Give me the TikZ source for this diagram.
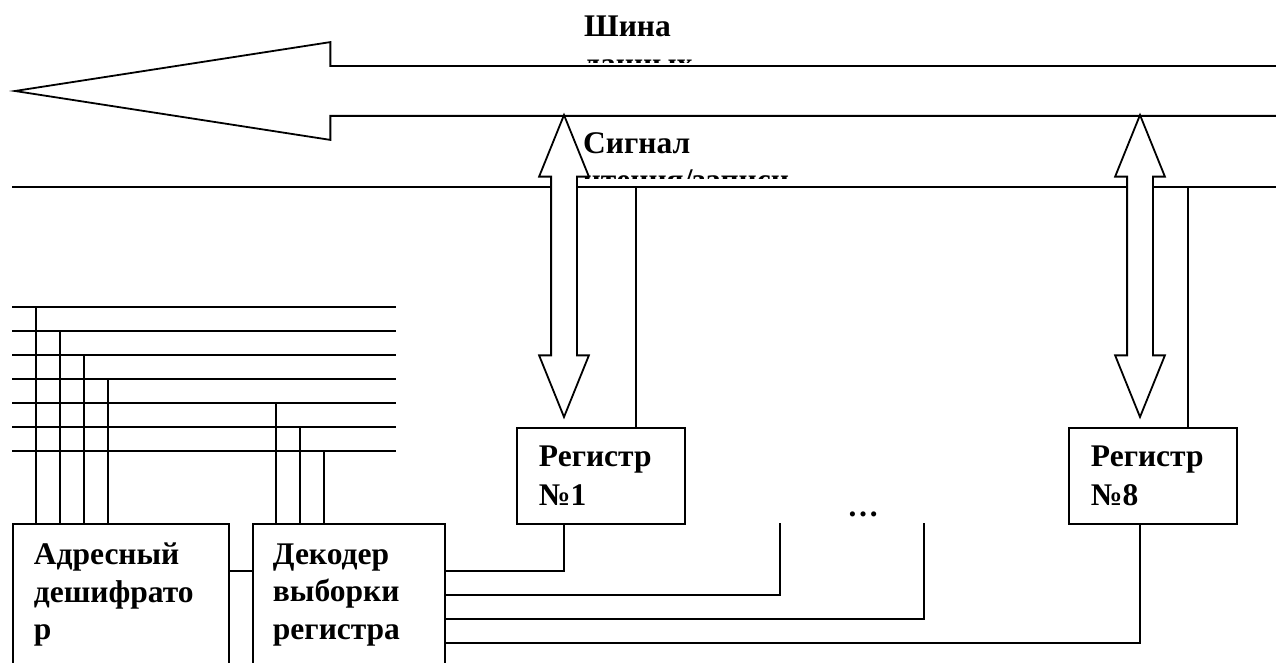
\documentclass[tikz,border=0pt]{standalone}
\usepackage{fontspec}
\setmainfont{Liberation Serif}
\usetikzlibrary{shapes.arrows}
\tikzstyle{every node}=[font=\bfseries\fontsize{31.5}{37.5}\selectfont,align=left]
\tikzstyle{wire}=[line width=1.9pt]
\tikzstyle{blockbox}=[draw=black,line width=1.9pt,anchor=north west,minimum height=154pt,inner ysep=0pt,text depth=94pt]
\tikzstyle{regbox}=[draw=black,line width=1.9pt,anchor=north west,minimum height=96pt,minimum width=168pt,inner ysep=0pt,text width=124pt,inner xsep=22pt]
\tikzstyle{datalink}=[draw=black,fill=white,line width=1.8pt,double arrow,rotate=90,minimum height=302pt,
          double arrow head extend=12pt,double arrow tip angle=44,inner xsep=0pt,inner ysep=12pt,outer sep=0pt]

\begin{document}
\begin{tikzpicture}[x=1pt,y=-1pt]
          \useasboundingbox (0,0) rectangle (1276,663);

          % labels, cut off by their frames
          \begin{scope}
            \clip (580,5) rectangle (730,63);
            \node[anchor=north west,inner sep=0pt] (buslabel) at (584,16) {Шина\\данных};
          \end{scope}
          \begin{scope}
            \clip (580,125) rectangle (830,178.5);
            \node[anchor=north west,inner sep=0pt] (siglabel) at (583,132) {Сигнал\\чтения/записи};
          \end{scope}

          % bus and signal line
          \node[single arrow,draw=black,fill=white,line width=1.8pt,rotate=180,minimum height=1300pt,anchor=tip,
            single arrow head extend=24pt,single arrow tip angle=17.63,inner xsep=0pt,inner ysep=24pt,outer sep=0pt] (bus) at (15,91) {};
          \coordinate (sigleft) at (12,187);
          \coordinate (sigright) at (1276,187);
          \draw[wire] (sigleft) -- (sigright);

          % registers
          \node[regbox] (reg1) at (516,427) {Регистр\\[1.5pt]№1};
          \node[regbox] (reg8) at (1068,427) {Регистр\\[1.5pt]№8};
          \node[datalink] (link1) at (564,266) {};
          \node[datalink] (link8) at (1140,266) {};
          \draw[wire] (reg1.north -| 636,0) -- (636,0 |- sigleft);
          \draw[wire] (reg8.north -| 1188,0) -- (1188,0 |- sigleft);

          % blocks at the bottom
          \node[blockbox,minimum width=216pt,text width=174pt,inner xsep=21pt] (addr) at (12,523) {Адресный\\дешифрато\\р};
          \node[blockbox,minimum width=192pt,text width=152pt,inner xsep=20pt] (dec) at (252,523) {Декодер\\выборки\\регистра};
          \draw[wire] (228,571) coordinate (addrout) -- (252,571) coordinate (decin);

          % address lines
          \coordinate (a1) at (36,307);
          \coordinate (a2) at (60,331);
          \coordinate (a3) at (84,355);
          \coordinate (a4) at (108,379);
          \coordinate (a5) at (276,403);
          \coordinate (a6) at (300,427);
          \coordinate (a7) at (324,451);
          \draw[wire] (12,307) -- (396,307);
          \draw[wire] (12,331) -- (396,331);
          \draw[wire] (12,355) -- (396,355);
          \draw[wire] (12,379) -- (396,379);
          \draw[wire] (12,403) -- (396,403);
          \draw[wire] (12,427) -- (396,427);
          \draw[wire] (12,451) -- (396,451);
          \draw[wire] (a1) -- (a1 |- addr.north);
          \draw[wire] (a2) -- (a2 |- addr.north);
          \draw[wire] (a3) -- (a3 |- addr.north);
          \draw[wire] (a4) -- (a4 |- addr.north);
          \draw[wire] (a5) -- (a5 |- dec.north);
          \draw[wire] (a6) -- (a6 |- dec.north);
          \draw[wire] (a7) -- (a7 |- dec.north);

          % select lines
          \coordinate (sel1) at (564,571);
          \coordinate (sel2) at (780,595);
          \coordinate (sel3) at (924,619);
          \coordinate (sel8) at (1140,643);
          \draw[wire] (sel1 -| dec.east) -- (sel1) -- (sel1 |- reg1.south);
          \draw[wire] (sel2 -| dec.east) -- (sel2) -- (780,523);
          \draw[wire] (sel3 -| dec.east) -- (sel3) -- (924,523);
          \draw[wire] (sel8 -| dec.east) -- (sel8) -- (sel8 |- reg8.south);
          \node[inner sep=0pt] (dots) at (863,514) {…};
\end{tikzpicture}
\end{document}
